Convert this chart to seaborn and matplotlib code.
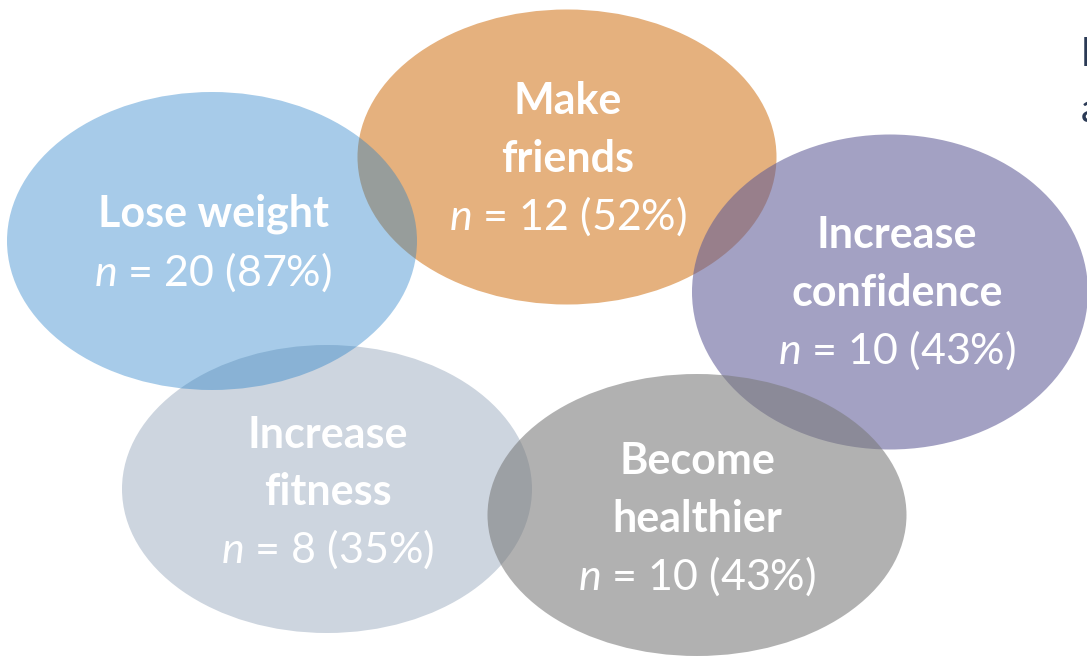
import matplotlib
matplotlib.use("Agg")
import matplotlib.pyplot as plt
from matplotlib.patches import Ellipse
import seaborn as sns

# ---- data ----
goals = ["Make\nfriends", "Increase\nfitness", "Increase\nconfidence", "Lose weight", "Become\nhealthier"]
counts = [12, 8, 10, 20, 10]
percents = [52, 35, 43, 87, 43]

# ---- layout / style (drawing order: bottom to top) ----
centers = [(567, 157), (327, 489), (890, 292), (212, 241), (697, 515)]
sizes = [(419, 295), (410, 288), (396, 315), (410, 298), (419, 282)]
colors = ["#E5B17E", "#CDD5DF", "#5E5A96", "#237FC8", "#7A7A7A"]
alphas = [1.0, 1.0, 0.57, 0.40, 0.58]
text_centers = [(568, 159), (328, 492), (897, 293), (213, 243), (697, 519)]

sns.set_theme(style="white")
plt.rcParams["font.family"] = ["Lato", "DejaVu Sans"]
plt.rcParams["mathtext.fontset"] = "custom"
plt.rcParams["mathtext.it"] = "Lato:italic"
plt.rcParams["mathtext.rm"] = "Lato"

fig = plt.figure(figsize=(10.87, 6.56), dpi=100)
ax = fig.add_axes([0, 0, 1, 1])
ax.set_xlim(0, 1087)
ax.set_ylim(656, 0)
ax.set_aspect("equal")
ax.axis("off")

for (cx, cy), (w, h), c, a in zip(centers, sizes, colors, alphas):
    ax.add_patch(Ellipse((cx, cy), w, h, facecolor=c, alpha=a, edgecolor="none"))

line_h = 57.5
fs = 31
for goal, n, p, (tx, ty) in zip(goals, counts, percents, text_centers):
    lines = goal.split("\n")
    nl = len(lines) + 1
    y0 = ty - (nl - 1) / 2 * line_h
    for i, ln in enumerate(lines):
        ax.text(tx, y0 + i * line_h, ln, ha="center", va="center",
                fontsize=fs, fontweight="bold", color="white")
    ax.text(tx, y0 + len(lines) * line_h, rf"$n$ = {n} ({p}%)", ha="center",
            va="center", fontsize=fs, color="white")

# clipped text at right edge (cut off in the reference as well)
ax.text(1081, 55, "I", ha="left", va="center", fontsize=29, fontweight="bold",
        color="#2B3A55", clip_on=False)
ax.text(1081, 110, "a", ha="left", va="center", fontsize=29,
        color="#2B3A55", clip_on=False)

fig.savefig("out.png", dpi=100)
